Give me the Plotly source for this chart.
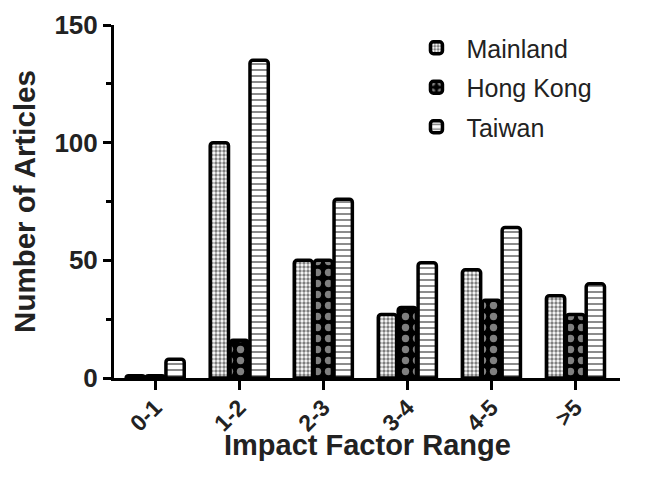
import plotly.graph_objects as go

categories = ["0-1", "1-2", "2-3", "3-4", "4-5", ">5"]
mainland = [1, 100, 50, 27, 46, 35]
hong_kong = [1, 16, 50, 30, 33, 27]
taiwan = [8, 135, 76, 49, 64, 40]

FONT = "Liberation Sans, Arial, sans-serif"

fig = go.Figure()
fig.add_trace(go.Bar(
    name="Mainland", x=categories, y=mainland, legendgroup="a",
    marker=dict(color="white", line=dict(color="black", width=3.5), cornerradius=3,
                pattern=dict(shape=".", fgcolor="black", bgcolor="white", size=4, solidity=0.55)),
))
fig.add_trace(go.Bar(
    name="Hong Kong", x=categories, y=hong_kong, legendgroup="b",
    marker=dict(color="black", line=dict(color="black", width=3.5), cornerradius=3,
                pattern=dict(shape=".", fgcolor="white", bgcolor="black", size=11, solidity=0.35)),
))
fig.add_trace(go.Bar(
    name="Taiwan", x=categories, y=taiwan, legendgroup="c",
    marker=dict(color="white", line=dict(color="black", width=3.5), cornerradius=3,
                pattern=dict(shape="-", fgcolor="black", bgcolor="white", size=6, solidity=0.3)),
))

fig.update_layout(
    width=649, height=471,
    margin=dict(l=106, r=37, t=17, b=101),
    paper_bgcolor="white", plot_bgcolor="white",
    barmode="group", bargap=0.29, bargroupgap=0.08,
    font=dict(family=FONT, color="#222"),
    showlegend=True,
    legend=dict(x=0.578, y=1.0, xanchor="left", yanchor="top",
                font=dict(size=25, family=FONT, color="#222"),
                bgcolor="rgba(0,0,0,0)", itemwidth=50, tracegroupgap=4),
    xaxis=dict(
        range=[-0.49, 5.53], showline=True, linecolor="black", linewidth=3,
        ticks="outside", ticklen=9, tickwidth=2.5, tickcolor="black", automargin=False,
        tickangle=-45, ticklabelstandoff=-5,
        tickfont=dict(size=23, family=FONT, color="#222", weight="bold"),
        showgrid=False, zeroline=False,
    ),
    yaxis=dict(
        range=[0, 150], showline=True, linecolor="black", linewidth=3,
        tickvals=[0, 50, 100, 150], ticks="outside", ticklen=8, tickwidth=2.5, tickcolor="black",
        automargin=False,
        tickfont=dict(size=26, family=FONT, color="#222", weight="bold"),
        minor=dict(tickvals=[25, 75, 125], ticks="outside", ticklen=5, tickwidth=2.5, tickcolor="black"),
        title=dict(text="<b>Number of Articles</b>", font=dict(size=29.5, family=FONT, color="#222"), standoff=12),
        showgrid=False, zeroline=False,
    ),
    annotations=[dict(
        text="<b>Impact Factor Range</b>", xref="paper", yref="paper",
        x=0.5, y=-0.139, xanchor="center", yanchor="top", showarrow=False,
        font=dict(size=29, family=FONT, color="#222"),
    )],
)

fig.write_html("out.html")
